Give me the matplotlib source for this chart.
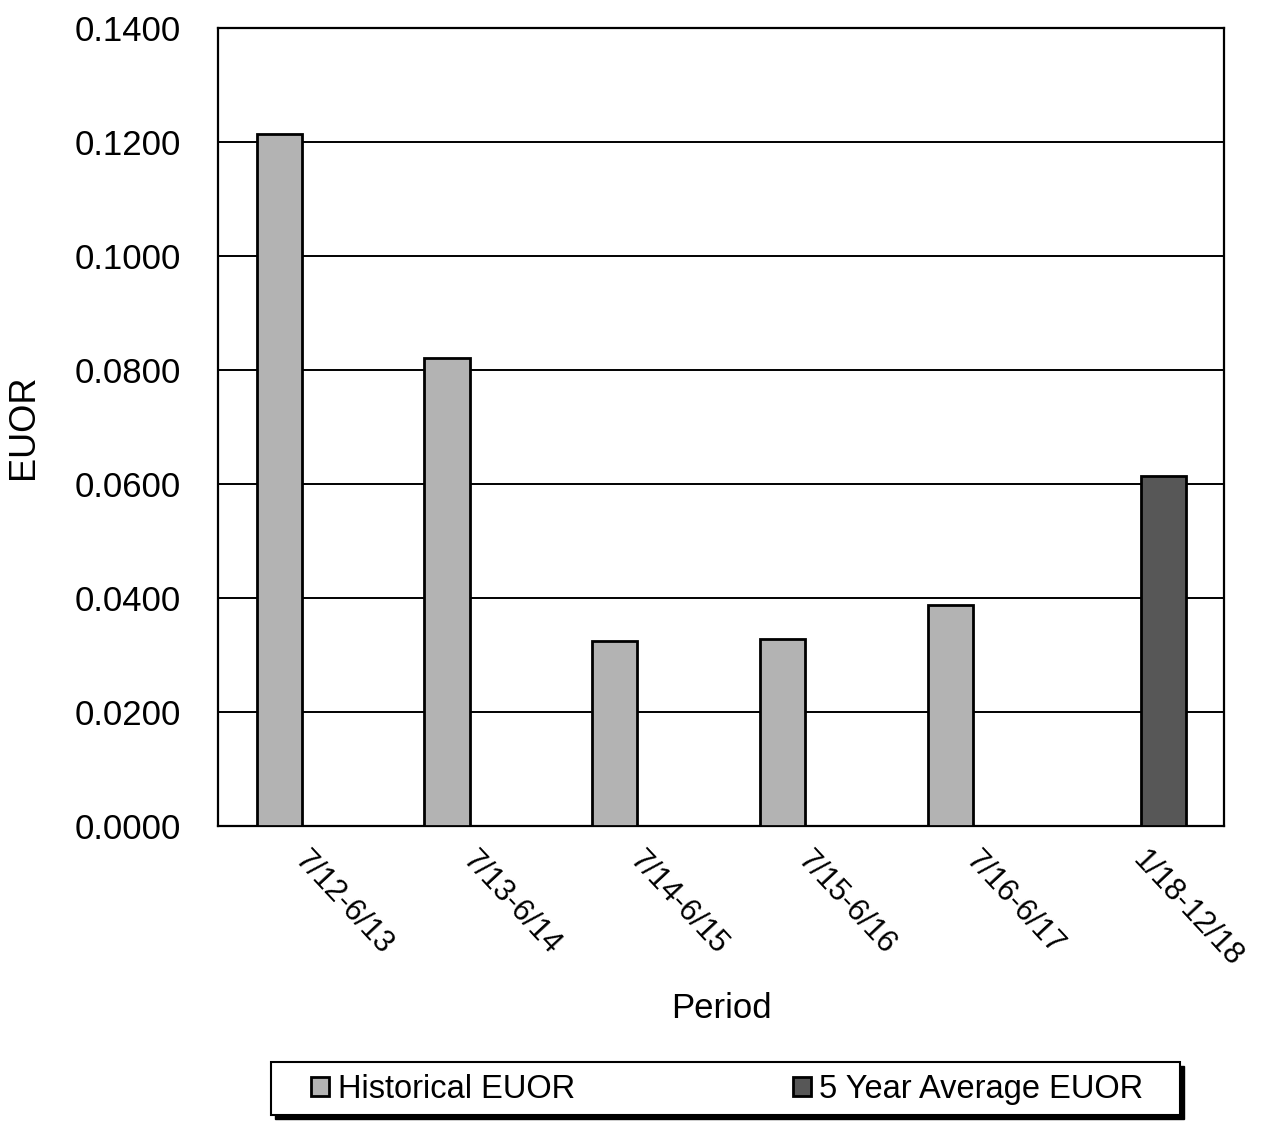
import numpy as np
import matplotlib.pyplot as plt
import matplotlib.transforms as mtransforms
from matplotlib.patches import Rectangle

periods = ['7/12-6/13', '7/13-6/14', '7/14-6/15', '7/15-6/16', '7/16-6/17', '1/18-12/18']
historical = [0.1214, 0.0821, 0.0325, 0.0328, 0.0388, np.nan]
five_year_avg = [np.nan, np.nan, np.nan, np.nan, np.nan, 0.0614]

plt.rcParams['font.family'] = ['Liberation Sans', 'DejaVu Sans']

W, H = 1261, 1123
fig = plt.figure(figsize=(W / 100, H / 100), dpi=100)
ax = fig.add_axes([0.173, 0.2645, 0.798, 0.7105])

x = np.arange(len(periods))
w = 0.27
ax.bar(x - w / 2, historical, w, color='#b3b3b3', edgecolor='black', linewidth=2,
       label='Historical EUOR', zorder=3)
ax.bar(x + w / 2, five_year_avg, w, color='#575757', edgecolor='black', linewidth=2,
       label='5 Year Average EUOR', zorder=3)

ax.set_xlim(-0.5, len(periods) - 0.5)
ax.set_ylim(0, 0.14)
ax.set_yticks(np.arange(0, 0.1401, 0.02))
ax.yaxis.set_major_formatter(plt.FormatStrFormatter('%.4f'))
ax.yaxis.grid(True, color='black', linewidth=1.4, zorder=0)
ax.set_axisbelow(True)

ax.set_xticks(x)
ax.set_xticklabels(periods, rotation=-47, ha='left', va='top', rotation_mode='anchor')
ax.tick_params(axis='x', length=0, pad=14, labelsize=22)
ax.tick_params(axis='y', length=0, labelsize=25, pad=27)
shift = mtransforms.ScaledTranslation(8 / 100, 0, fig.dpi_scale_trans)
for lab in ax.get_xticklabels():
    lab.set_transform(lab.get_transform() + shift)
for s in ax.spines.values():
    s.set_linewidth(1.6)

ax.set_xlabel('Period', fontsize=25, labelpad=14)
ax.set_ylabel('EUOR', fontsize=26, labelpad=24)

# legend box with drop shadow
bx, by, bw, bh = 271, 8, 909, 53
fig.patches.append(Rectangle(((bx + 4) / W, (by - 4) / H), bw / W, bh / H,
                             transform=fig.transFigure, facecolor='black',
                             edgecolor='black', zorder=1))
fig.patches.append(Rectangle((bx / W, by / H), bw / W, bh / H,
                             transform=fig.transFigure, facecolor='white',
                             edgecolor='black', linewidth=1.5, zorder=2))

leg = fig.legend(loc='center', bbox_to_anchor=((bx + bw / 2 + 2) / W, (by + bh / 2 - 1) / H),
                 ncol=2, fontsize=23.5, frameon=False, handlelength=0.55,
                 handleheight=0.55, handletextpad=0.25, columnspacing=6.7,
                 borderaxespad=0, borderpad=0)
leg.set_zorder(3)

plt.savefig('out.png', dpi=100)
